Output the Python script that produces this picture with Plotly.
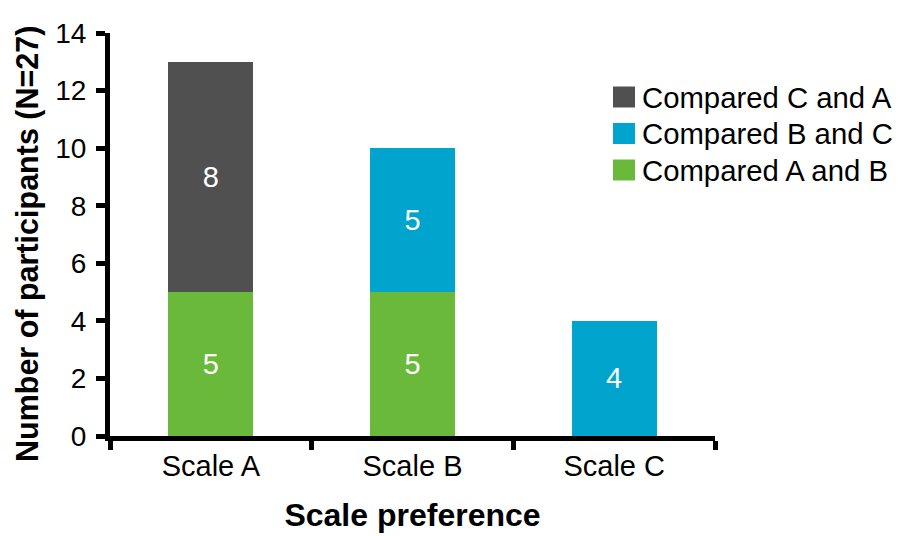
import plotly.graph_objects as go

categories = ["Scale A", "Scale B", "Scale C"]
series_names = ["Compared A and B", "Compared B and C", "Compared C and A"]
values_ab = [5, 5, None]
values_bc = [None, 5, 4]
values_ca = [8, None, None]
colors = ["#6AB93B", "#00A4CD", "#505050"]

FONT = "Liberation Sans, Arial, sans-serif"

fig = go.Figure()
for name, vals, col in zip(series_names, [values_ab, values_bc, values_ca], colors):
    fig.add_trace(go.Bar(
        x=categories, y=vals, name=name, marker=dict(color=col, line=dict(width=0)),
        text=[str(v) if v is not None else "" for v in vals],
        textposition="inside", insidetextanchor="middle",
        textfont=dict(color="white", size=29, family=FONT),
        width=0.42, showlegend=False,
    ))

# page offset (body margin) between figure coords and screenshot coords
OFF = 8
L, R, T, B = 110 - OFF, 715 - OFF, 33 - OFF, 436 - OFF
W, H = R - L, B - T
def px(x):
    return (x - OFF - L) / W
def py(y):
    return (B - (y - OFF)) / H

legend_rows = [("Compared C and A", colors[2], 97),
               ("Compared B and C", colors[1], 133.5),
               ("Compared A and B", colors[0], 170)]
for label, col, yc in legend_rows:
    fig.add_shape(type="rect", xref="paper", yref="paper",
                  x0=px(613), x1=px(635), y0=py(yc + 10.5), y1=py(yc - 10.5),
                  fillcolor=col, line=dict(width=0))
    fig.add_annotation(xref="paper", yref="paper", x=px(640), y=py(yc),
                       xanchor="left", yanchor="middle", text=label, showarrow=False,
                       font=dict(size=29.3, family=FONT, color="black"))

# y-axis title as rotated annotation
fig.add_annotation(xref="paper", yref="paper", x=px(28), y=py(244),
                   xanchor="center", yanchor="middle", textangle=-90, borderpad=0,
                   text="<b>Number of participants (N=27)</b>", showarrow=False,
                   font=dict(size=30.5, family=FONT, color="black"))

fig.update_layout(
    barmode="stack",
    width=904, height=536,
    margin=dict(l=L, r=904 - R, t=T, b=536 - B, autoexpand=False),
    paper_bgcolor="white", plot_bgcolor="white",
    font=dict(family=FONT, color="black"),
    showlegend=False,
    uniformtext=dict(mode="show", minsize=10),
)
fig.update_xaxes(
    showline=True, linecolor="black", linewidth=5, ticks="outside", tickson="boundaries",
    ticklen=9, tickwidth=5, tickcolor="black", tickfont=dict(size=29),
    title=dict(text="<b>Scale preference</b>", font=dict(size=32), standoff=24),
    showgrid=False, zeroline=False,
)
fig.update_yaxes(
    range=[0, 14], dtick=2, showline=True, linecolor="black", linewidth=5,
    ticks="outside", ticklen=9, tickwidth=5, tickcolor="black", tickfont=dict(size=28),
    ticklabelstandoff=4,
    showgrid=False, zeroline=False,
)

fig.write_html("out.html")
